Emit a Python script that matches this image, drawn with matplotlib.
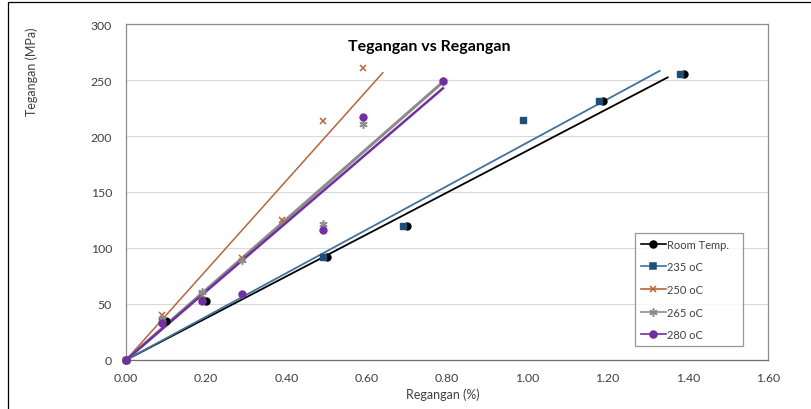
import numpy as np
import matplotlib
matplotlib.use('Agg')
import matplotlib.pyplot as plt
from matplotlib.legend_handler import HandlerLine2D
from matplotlib.lines import Line2D
from matplotlib.patches import Rectangle

plt.rcParams['font.family'] = ['Lato', 'DejaVu Sans']

# data
labels = ['Room Temp.', '235 oC', '250 oC', '265 oC', '280 oC']
room_x = [0, 0.10, 0.20, 0.50, 0.70, 1.19, 1.39]
room_y = [0, 35, 53, 92, 120, 231, 255]
t235_x = [0, 0.09, 0.19, 0.49, 0.69, 0.99, 1.18, 1.38]
t235_y = [0, 36, 54, 92, 120, 214, 231, 255]
t250_x = [0, 0.09, 0.19, 0.29, 0.39, 0.49, 0.59]
t250_y = [0, 40, 58, 91, 125, 213, 261]
t265_x = [0, 0.09, 0.19, 0.29, 0.49, 0.59, 0.79]
t265_y = [0, 37, 61, 89, 121, 211, 249]
t280_x = [0, 0.09, 0.19, 0.29, 0.49, 0.59, 0.79]
t280_y = [0, 33, 53, 59, 116, 217, 249]
trend_end = [1.35, 1.33, 0.64, 0.79, 0.79]   # where each trendline stops

xs = [room_x, t235_x, t250_x, t265_x, t280_x]
ys = [room_y, t235_y, t250_y, t265_y, t280_y]

# style per series: marker, marker colour, line colour, line width, marker size
styles = [
    ('o', '#000000', '#000000', 1.3, 5),
    ('s', '#1F4E79', '#41719C', 1.3, 4.5),
    ('x', '#B5653A', '#B5653A', 1.1, 5),
    ((6, 2, 0), '#8C8C8C', '#8C8C8C', 2.2, 6),
    ('o', '#7030A0', '#7030A0', 1.8, 5),
]


class MarkerAtEnd(HandlerLine2D):
    def get_xdata(self, legend, xdescent, ydescent, width, height, fontsize):
        xdata = np.array([-xdescent, -xdescent + width])
        return xdata, np.array([-xdescent + width])


fig = plt.figure(figsize=(8.12, 4.10), dpi=100)
ax = fig.add_axes([126/812, 1-361/410, 642/812, 336/410])

handles = []
for i, (x, y, lab, st) in enumerate(zip(xs, ys, labels, styles)):
    m, mc, lc, lw, ms = st
    x = np.array(x); y = np.array(y, dtype=float)
    # linear trendline through the origin
    k = np.sum(x*y) / np.sum(x*x)
    end = trend_end[i]
    ax.plot([0, end], [0, k*end], color=lc, lw=lw, zorder=2)
    if m == 'x' or isinstance(m, tuple):
        ax.plot(x, y, ls='none', marker=m, ms=ms, color=mc, mew=1.1,
                zorder=3, clip_on=False)
    else:
        ax.plot(x, y, ls='none', marker=m, ms=ms, mfc=mc, mec=mc,
                zorder=3, clip_on=False)
    handles.append(Line2D([], [], color=lc, lw=1.2, marker=m, ms=ms,
                          mfc=mc, mec=mc, mew=1.1, label=lab))

ax.set_xlim(0, 1.6)
ax.set_ylim(0, 300)
ax.set_xticks(np.arange(0, 1.61, 0.2))
ax.set_xticklabels(['%.2f' % v for v in np.arange(0, 1.61, 0.2)])
ax.set_yticks(np.arange(0, 301, 50))
ax.yaxis.grid(True, color='#D9D9D9', lw=0.8)
ax.set_axisbelow(True)
ax.tick_params(length=0, labelsize=8.8, colors='#404040')
ax.tick_params(axis='y', pad=10)
ax.tick_params(axis='x', pad=9)
for s in ax.spines.values():
    s.set_color('#8C8C8C')
    s.set_linewidth(0.9)
ax.spines['bottom'].set_color('#6E6E6E')

leg = ax.legend(handles=handles, loc='upper left',
                bbox_to_anchor=(0.793, 0.045, 0.168, 0.333), mode='expand',
                handler_map={Line2D: MarkerAtEnd(numpoints=1)},
                fontsize=8, frameon=True, fancybox=False, edgecolor='#7F7F7F',
                handlelength=2.3, handletextpad=0.1, labelspacing=1.05,
                borderpad=0.5, borderaxespad=0)
leg.get_frame().set_linewidth(0.9)
for t in leg.get_texts():
    t.set_color('#404040')

fig.text(429/812, 1-47/410, 'Tegangan vs Regangan', ha='center', va='center',
         fontsize=11.5, fontweight='bold', color='#000000')
fig.text(443/812, 1-395/410, 'Regangan (%)', ha='center', va='center',
         fontsize=9, color='#404040')
fig.text(32/812, 1-72/410, 'Tegangan (MPa)', ha='center', va='center',
         rotation=90, fontsize=9, color='#404040')

fig.patches.append(Rectangle((8/812, -0.1), 1.2, 1.1 - 3/410, fill=False,
                             edgecolor='black', lw=0.9, transform=fig.transFigure))

fig.savefig('out.png', dpi=100)
